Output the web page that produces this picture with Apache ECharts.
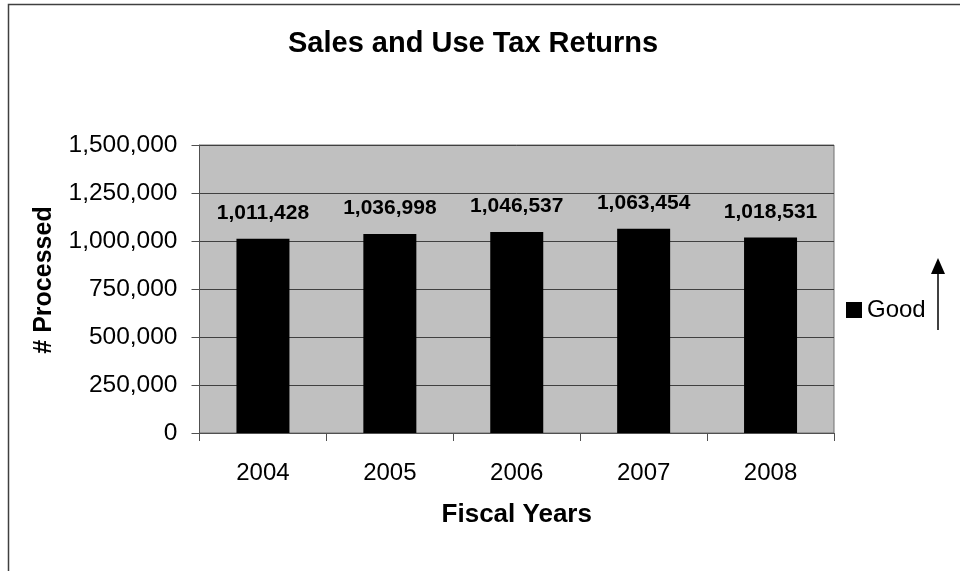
<!DOCTYPE html>
<html>
<head>
<meta charset="utf-8">
<script src="https://cdn.jsdelivr.net/npm/echarts@6/dist/echarts.min.js"></script>
<style>html,body{margin:0;padding:0;background:#fff}#c{width:960px;height:571px}</style>
</head>
<body>
<div id="c"></div>
<script>
const categories = ['2004', '2005', '2006', '2007', '2008'];
const processed = [1011428, 1036998, 1046537, 1063454, 1018531];
const seriesName = 'Good';
const titleText = 'Sales and Use Tax Returns';
const yAxisName = '# Processed';
const xAxisName = 'Fiscal Years';

const FONT = 'Liberation Sans, Arial, sans-serif';
const fmt = v => Number(v).toLocaleString('en-US');

const chart = echarts.init(document.getElementById('c'), null, {renderer: 'canvas'});
chart.setOption({
  animation: false,
  backgroundColor: '#ffffff',
  title: {
    text: titleText,
    left: 288,
    top: 29,
    padding: 0,
    textStyle: {fontFamily: FONT, fontSize: 29, fontWeight: 'bold', color: '#000'}
  },
  legend: {
    data: [seriesName],
    left: 846,
    top: 298,
    padding: 0,
    icon: 'rect',
    itemWidth: 16,
    itemHeight: 16,
    textStyle: {fontFamily: FONT, fontSize: 24, color: '#000'}
  },
  grid: {
    left: 199.5, top: 145, right: 126, bottom: 138,
    show: true, backgroundColor: '#c0c0c0', borderColor: '#707070', borderWidth: 1
  },
  xAxis: {
    type: 'category',
    data: categories,
    boundaryGap: true,
    name: xAxisName,
    nameLocation: 'middle',
    nameGap: 69,
    nameTextStyle: {fontFamily: FONT, fontSize: 26, fontWeight: 'bold', color: '#000'},
    axisLine: {lineStyle: {color: '#505050', width: 1}},
    axisTick: {show: true, length: 8, alignWithLabel: false, lineStyle: {color: '#505050'}},
    axisLabel: {fontFamily: FONT, fontSize: 24, color: '#000', margin: 28}
  },
  yAxis: {
    type: 'value',
    min: 0,
    max: 1500000,
    interval: 250000,
    name: yAxisName,
    nameLocation: 'middle',
    nameGap: 143,
    nameRotate: 90,
    nameTextStyle: {fontFamily: FONT, fontSize: 25, fontWeight: 'bold', color: '#000', padding: [0, 0, 0, 18]},
    axisLine: {show: true, lineStyle: {color: '#505050', width: 1}},
    axisTick: {show: true, length: 8, lineStyle: {color: '#505050'}},
    splitLine: {show: true, lineStyle: {color: '#404040', width: 1}},
    axisLabel: {fontFamily: FONT, fontSize: 24.5, color: '#000', margin: 22, formatter: v => fmt(v)}
  },
  series: [{
    name: seriesName,
    type: 'bar',
    data: processed,
    barWidth: 53,
    itemStyle: {color: '#000000'},
    label: {
      show: true,
      position: 'top',
      distance: 15,
      fontFamily: FONT,
      fontSize: 21,
      fontWeight: 'bold',
      color: '#000',
      formatter: p => fmt(p.value)
    }
  }],
  graphic: [
    {type: 'rect', shape: {x: 8.5, y: 4.5, width: 1000, height: 700}, style: {fill: 'none', stroke: '#404040', lineWidth: 1.5}, silent: true},
    {type: 'line', shape: {x1: 938, y1: 330, x2: 938, y2: 270}, style: {stroke: '#000', lineWidth: 1.5}},
    {type: 'polygon', shape: {points: [[931, 274], [945, 274], [938, 258]]}, style: {fill: '#000'}}
  ]
});
</script>
</body>
</html>
